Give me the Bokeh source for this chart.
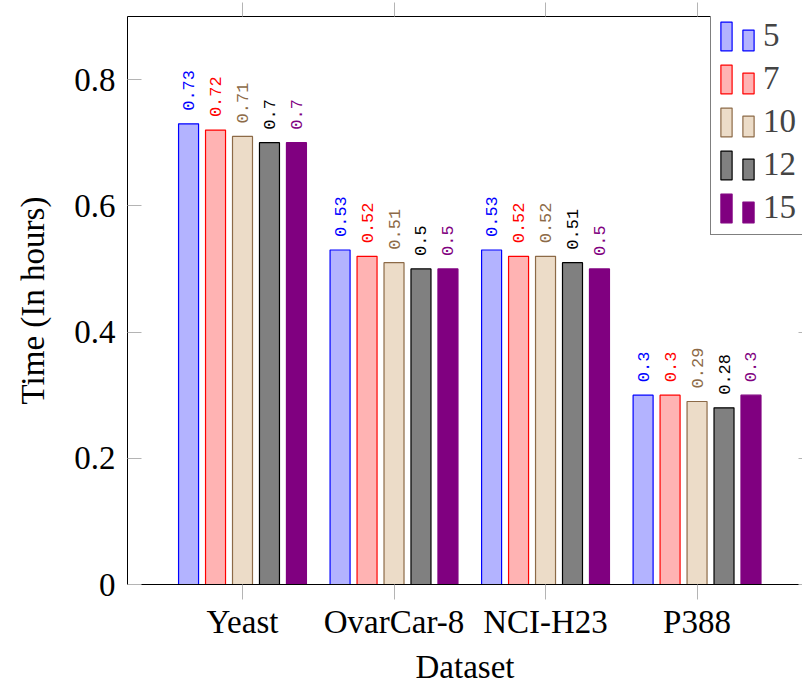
import numpy as np
from bokeh.plotting import figure
from bokeh.models import (ColumnDataSource, Range1d, FixedTicker, LinearAxis,
                          Legend, LegendItem, NumeralTickFormatter)
from bokeh.core.properties import value
from bokeh.embed import file_html
from bokeh.resources import INLINE

# ---- data ----
datasets = ["Yeast", "OvarCar-8", "NCI-H23", "P388"]
series = ["5", "7", "10", "12", "15"]
t5 = [0.73, 0.53, 0.53, 0.30]
t7 = [0.72, 0.52, 0.52, 0.30]
t10 = [0.71, 0.51, 0.52, 0.29]
t12 = [0.70, 0.50, 0.51, 0.28]
t15 = [0.70, 0.50, 0.50, 0.30]
y_ticks = [0, 0.2, 0.4, 0.6, 0.8]

values = [t5, t7, t10, t12, t15]
fills = ["#b3b3ff", "#ffb3b3", "#ecdcc8", "#808080", "#800080"]
strokes = ["#0000ff", "#ff0000", "#8c6a47", "#000000", "#800080"]

SERIF = "Liberation Serif"
FS = "33px"
TICK_GREY = "#b4b4b4"

p = figure(width=802, height=690,
           x_range=Range1d(-0.759, 3.696), y_range=Range1d(0, 0.9),
           output_backend="svg", toolbar_location=None,
           min_border_left=127, min_border_right=0,
           min_border_top=16, min_border_bottom=106)
p.grid.visible = False
p.outline_line_color = None
p.background_fill_color = "white"

idx = np.arange(len(datasets))
step = 0.178
bar_w = 0.132
renderers = []
for j, (vals, fc, lc) in enumerate(zip(values, fills, strokes)):
    xs = idx + (j - 2) * step
    src = ColumnDataSource(dict(x=xs, top=vals, lab=[f"{v:g}" for v in vals]))
    r = p.vbar(x="x", top="top", width=bar_w, source=src,
               fill_color=fc, line_color=lc, line_width=1.2)
    renderers.append(r)
    p.text(x="x", y="top", text="lab", source=src, angle=np.pi / 2,
           text_align="left", text_baseline="middle", y_offset=-13,
           text_color=lc, text_font=value("Liberation Mono"),
           text_font_size="17px")

# ---- axes ----
xa = p.xaxis[0]
xa.ticker = FixedTicker(ticks=list(idx))
xa.major_label_overrides = {int(i): d for i, d in zip(idx, datasets)}
xa.major_tick_out = 15
xa.major_tick_in = 0
xa.major_tick_line_color = TICK_GREY
xa.minor_tick_line_color = None
xa.axis_line_color = "black"
xa.major_label_text_font = SERIF
xa.major_label_text_font_size = FS
xa.major_label_text_color = "black"
xa.major_label_standoff = 4
xa.axis_label = "Dataset"
xa.axis_label_text_font = SERIF
xa.axis_label_text_font_size = FS
xa.axis_label_text_font_style = "normal"
xa.axis_label_text_color = "black"
xa.axis_label_standoff = 6

ya = p.yaxis[0]
ya.ticker = FixedTicker(ticks=y_ticks)
ya.formatter = NumeralTickFormatter(format="0.[0]")
ya.major_tick_in = 14
ya.major_tick_out = 0
ya.major_tick_line_color = TICK_GREY
ya.minor_tick_line_color = None
ya.axis_line_color = "black"
ya.major_label_text_font = SERIF
ya.major_label_text_font_size = FS
ya.major_label_text_color = "black"
ya.major_label_standoff = 12
ya.axis_label = "Time (In hours)"
ya.axis_label_text_font = SERIF
ya.axis_label_text_font_size = FS
ya.axis_label_text_font_style = "normal"
ya.axis_label_text_color = "black"
ya.axis_label_standoff = 20

top_ax = LinearAxis(ticker=FixedTicker(ticks=list(idx)),
                    major_label_overrides={int(i): "" for i in idx},
                    major_label_text_font_size="0px", major_label_standoff=0,
                    major_tick_out=14, major_tick_in=0,
                    major_tick_line_color=TICK_GREY, minor_tick_line_color=None,
                    axis_line_color="black")
p.add_layout(top_ax, "above")

right_ax = LinearAxis(ticker=FixedTicker(ticks=y_ticks),
                      major_label_overrides={t: "" for t in y_ticks},
                      major_label_text_font_size="0px", major_label_standoff=0,
                      major_tick_out=0, major_tick_in=4,
                      major_tick_line_color=TICK_GREY, minor_tick_line_color=None,
                      axis_line_color=None)
p.add_layout(right_ax, "right")

# ---- legend: tall bar + label (bordered) ----
leg = Legend(items=[LegendItem(label=value(s), renderers=[r]) for s, r in zip(series, renderers)],
             location=(583, 349), margin=0, padding=8, spacing=6,
             glyph_width=14, glyph_height=36, label_standoff=30,
             label_height=37,
             label_text_font=SERIF, label_text_font_size=FS,
             border_line_color="black", border_line_width=1,
             background_fill_alpha=1.0)
p.add_layout(leg)

# ---- legend overlay: short bars ----
leg2 = Legend(items=[LegendItem(label=value(""), renderers=[r]) for r in renderers],
              location=(614, 359), margin=0, padding=0, spacing=17,
              glyph_width=14, glyph_height=26, label_standoff=0,
              label_width=0, label_height=0, label_text_font_size="1px",
              border_line_color=None, background_fill_alpha=0.0)
p.add_layout(leg2)

open("out.html", "w").write(file_html(p, INLINE))
